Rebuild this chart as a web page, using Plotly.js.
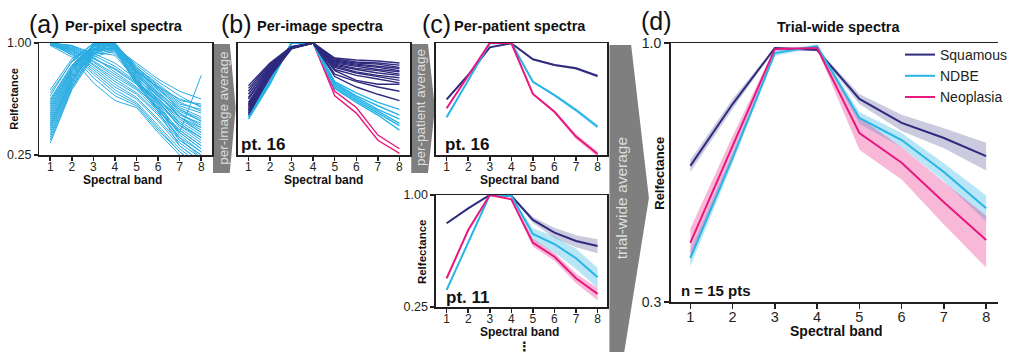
<!DOCTYPE html>
<html><head><meta charset="utf-8">
<script src="https://cdn.plot.ly/plotly-3.0.1.min.js"></script>
<style>html,body{margin:0;padding:0;background:#fff}#chart{width:1012px;height:356px}</style>
</head><body><div id="chart"></div>
<script>
const bands = [1, 2, 3, 4, 5, 6, 7, 8];

// (a) per-pixel spectra (two families)
const pixelRising = [
  [0.54, 0.79, 1.00, 0.98, 0.74, 0.60, 0.49, 0.47],
  [0.50, 0.76, 0.98, 1.00, 0.72, 0.57, 0.46, 0.42],
  [0.46, 0.72, 0.96, 1.00, 0.70, 0.55, 0.43, 0.38],
  [0.43, 0.70, 0.95, 0.99, 0.69, 0.53, 0.40, 0.35],
  [0.40, 0.67, 0.93, 0.97, 0.71, 0.56, 0.45, 0.40],
  [0.37, 0.64, 0.91, 0.98, 0.68, 0.51, 0.37, 0.31],
  [0.35, 0.62, 0.90, 0.96, 0.66, 0.49, 0.35, 0.29],
  [0.33, 0.60, 0.88, 0.95, 0.64, 0.47, 0.33, 0.27],
  [0.31, 0.58, 0.86, 0.93, 0.62, 0.45, 0.30, 0.25],
  [0.29, 0.56, 0.84, 0.91, 0.60, 0.43, 0.28, 0.23],
  [0.52, 0.80, 1.00, 0.97, 0.76, 0.62, 0.52, 0.45],
  [0.48, 0.74, 0.97, 0.99, 0.73, 0.58, 0.47, 0.44],
  [0.44, 0.71, 0.99, 1.00, 0.67, 0.52, 0.41, 0.37],
  [0.39, 0.66, 0.92, 0.94, 0.65, 0.50, 0.39, 0.33],
  [0.36, 0.63, 0.89, 0.86, 0.63, 0.48, 0.36, 0.30],
  [0.42, 0.69, 0.94, 0.88, 0.66, 0.54, 0.44, 0.38],
  [0.56, 0.82, 0.99, 0.95, 0.78, 0.64, 0.55, 0.50],
  [0.47, 0.73, 0.97, 0.92, 0.70, 0.58, 0.50, 0.46],
  [0.41, 0.68, 0.95, 1.00, 0.74, 0.59, 0.48, 0.43],
  [0.34, 0.61, 0.92, 1.00, 0.69, 0.54, 0.42, 0.36],
  [0.30, 0.57, 0.87, 0.97, 0.63, 0.46, 0.32, 0.26],
  [0.45, 0.71, 0.96, 0.90, 0.62, 0.47, 0.36, 0.31],
  [0.38, 0.65, 0.93, 0.99, 0.72, 0.57, 0.44, 0.39],
  [0.32, 0.59, 0.89, 0.94, 0.61, 0.44, 0.31, 0.24],
  [0.49, 0.75, 0.98, 0.96, 0.68, 0.52, 0.40, 0.34],
  [0.36, 0.63, 0.91, 0.93, 0.60, 0.45, 0.34, 0.28]
];
const pixelFalling = [
  [1.00, 0.97, 0.86, 0.75, 0.62, 0.50, 0.40, 0.33],
  [0.99, 0.95, 0.83, 0.72, 0.60, 0.48, 0.37, 0.31],
  [1.00, 0.93, 0.80, 0.68, 0.57, 0.45, 0.34, 0.28],
  [0.98, 0.91, 0.77, 0.64, 0.54, 0.42, 0.31, 0.26],
  [1.00, 0.90, 0.74, 0.60, 0.51, 0.39, 0.29, 0.24],
  [0.99, 0.88, 0.70, 0.56, 0.48, 0.36, 0.27, 0.22],
  [1.00, 0.86, 0.65, 0.52, 0.46, 0.34, 0.26, 0.21],
  [0.97, 0.84, 0.61, 0.49, 0.45, 0.33, 0.25, 0.20],
  [1.00, 0.96, 0.84, 0.70, 0.58, 0.44, 0.33, 0.67],
  [0.98, 0.92, 0.79, 0.66, 0.56, 0.43, 0.33, 0.27],
  [1.00, 0.94, 0.82, 0.73, 0.61, 0.49, 0.38, 0.32],
  [0.99, 0.89, 0.72, 0.58, 0.50, 0.38, 0.28, 0.23],
  [1.00, 0.97, 0.88, 0.78, 0.64, 0.52, 0.42, 0.35],
  [0.98, 0.87, 0.68, 0.54, 0.47, 0.35, 0.26, 0.21],
  [1.00, 0.92, 0.76, 0.62, 0.53, 0.41, 0.30, 0.25]
];

// (b) per-image spectra, patient 16
const imageSquamous = [
  [0.59, 0.78, 0.96, 1.00, 0.83, 0.81, 0.80, 0.78],
  [0.57, 0.77, 0.95, 1.00, 0.82, 0.79, 0.78, 0.76],
  [0.55, 0.76, 0.95, 1.00, 0.81, 0.78, 0.77, 0.74],
  [0.53, 0.75, 0.95, 1.00, 0.80, 0.77, 0.75, 0.73],
  [0.51, 0.74, 0.94, 1.00, 0.79, 0.76, 0.74, 0.71],
  [0.50, 0.73, 0.94, 1.00, 0.78, 0.75, 0.72, 0.70],
  [0.48, 0.72, 0.94, 1.00, 0.77, 0.73, 0.71, 0.68],
  [0.47, 0.71, 0.95, 1.00, 0.76, 0.72, 0.69, 0.67],
  [0.45, 0.70, 0.95, 1.00, 0.75, 0.70, 0.67, 0.65],
  [0.44, 0.69, 0.94, 1.00, 0.74, 0.69, 0.66, 0.63],
  [0.42, 0.68, 0.94, 1.00, 0.72, 0.67, 0.64, 0.61],
  [0.46, 0.70, 0.95, 1.00, 0.71, 0.63, 0.60, 0.60],
  [0.43, 0.67, 0.94, 1.00, 0.66, 0.58, 0.53, 0.49],
  [0.41, 0.66, 0.93, 1.00, 0.68, 0.62, 0.58, 0.55]
];
const imageNdbe = [
  [0.43, 0.63, 1.00, 1.00, 0.62, 0.54, 0.48, 0.44],
  [0.42, 0.62, 1.00, 1.00, 0.61, 0.52, 0.46, 0.41],
  [0.41, 0.62, 1.00, 1.00, 0.60, 0.51, 0.44, 0.39],
  [0.40, 0.61, 1.00, 1.00, 0.59, 0.50, 0.43, 0.37],
  [0.40, 0.61, 1.00, 1.00, 0.58, 0.49, 0.42, 0.36],
  [0.39, 0.60, 1.00, 1.00, 0.57, 0.48, 0.41, 0.34]
];
const imageNeoplasia = [
  [0.46, 0.65, 1.00, 1.00, 0.55, 0.45, 0.32, 0.27],
  [0.44, 0.64, 1.00, 1.00, 0.52, 0.42, 0.30, 0.255]
];

// (c) per-patient spectra: mean and spread
const pt16Squamous = [0.498, 0.673, 0.948, 0.996, 0.817, 0.762, 0.731, 0.665];
const pt16SquamousSem = [0.004, 0.004, 0.003, 0.003, 0.010, 0.010, 0.012, 0.012];
const pt16Ndbe = [0.399, 0.633, 0.998, 1.000, 0.619, 0.525, 0.436, 0.355];
const pt16NdbeSem = [0.004, 0.004, 0.003, 0.003, 0.008, 0.008, 0.010, 0.010];
const pt16Neoplasia = [0.446, 0.673, 1.000, 1.000, 0.532, 0.427, 0.314, 0.253];
const pt16NeoplasiaSem = [0.004, 0.004, 0.003, 0.003, 0.006, 0.008, 0.010, 0.008];

const pt11Squamous = [0.705, 0.848, 1.000, 0.991, 0.734, 0.627, 0.566, 0.532];
const pt11SquamousSem = [0.006, 0.006, 0.003, 0.003, 0.027, 0.039, 0.042, 0.046];
const pt11Ndbe = [0.309, 0.556, 1.000, 0.988, 0.617, 0.545, 0.457, 0.361];
const pt11NdbeSem = [0.004, 0.006, 0.003, 0.004, 0.046, 0.054, 0.057, 0.045];
const pt11Neoplasia = [0.357, 0.648, 1.000, 0.948, 0.554, 0.466, 0.357, 0.294];
const pt11NeoplasiaSem = [0.004, 0.006, 0.003, 0.006, 0.027, 0.023, 0.022, 0.022];

// (d) trial-wide spectra (n = 15 patients)
const trialSquamous = [0.565, 0.753, 0.977, 0.968, 0.771, 0.690, 0.643, 0.591];
const trialSquamousSem = [0.016, 0.0175, 0.005, 0.005, 0.018, 0.026, 0.030, 0.038];
const trialNdbe = [0.368, 0.586, 0.954, 0.986, 0.706, 0.637, 0.549, 0.464];
const trialNdbeSem = [0.014, 0.014, 0.013, 0.007, 0.020, 0.021, 0.023, 0.028];
const trialNeoplasia = [0.395, 0.620, 0.972, 0.977, 0.658, 0.573, 0.477, 0.400];
const trialNeoplasiaSem = [0.027, 0.029, 0.007, 0.006, 0.049, 0.043, 0.047, 0.048];

const classNames = ['Squamous', 'NDBE', 'Neoplasia'];
const xTickText = ['1', '2', '3', '4', '5', '6', '7', '8'];

// ---------- styling ----------
const W = 1012, H = 356;
const px = x => x / W;
const py = y => 1 - y / H;
const FONT = 'Liberation Sans, Arial, sans-serif';
const C_SQ = '#2e2a7e', C_ND = '#27b4e6', C_NE = '#e8187f', C_PIX = '#2aace2';
const F_SQ = 'rgba(46,42,126,0.25)', F_ND = 'rgba(39,180,230,0.33)', F_NE = 'rgba(232,24,127,0.3)';
const AX = '#231f20';

const traces = [];
function line(y, color, width, xa, ya, extra) {
  traces.push(Object.assign({
    x: bands, y: y, type: 'scatter', mode: 'lines',
    line: {color: color, width: width}, xaxis: xa, yaxis: ya,
    showlegend: false, hoverinfo: 'skip'
  }, extra || {}));
}
function band(mean, sem, fill, xa, ya) {
  const up = mean.map((v, i) => v + sem[i]);
  const lo = mean.map((v, i) => v - sem[i]);
  traces.push({
    x: bands.concat(bands.slice().reverse()),
    y: up.concat(lo.slice().reverse()),
    type: 'scatter', mode: 'lines', fill: 'toself', fillcolor: fill,
    line: {width: 0, color: fill}, xaxis: xa, yaxis: ya,
    showlegend: false, hoverinfo: 'skip'
  });
}

// (a)
pixelRising.forEach(s => line(s, C_PIX, 1, 'x', 'y'));
pixelFalling.forEach(s => line(s, C_PIX, 1, 'x', 'y'));
// (b)
imageNeoplasia.forEach(s => line(s, C_NE, 1.4, 'x2', 'y2'));
imageNdbe.forEach(s => line(s, C_ND, 1.4, 'x2', 'y2'));
imageSquamous.forEach(s => line(s, C_SQ, 1.4, 'x2', 'y2'));
// (c) top
band(pt16Squamous, pt16SquamousSem, F_SQ, 'x3', 'y3');
band(pt16Ndbe, pt16NdbeSem, F_ND, 'x3', 'y3');
band(pt16Neoplasia, pt16NeoplasiaSem, F_NE, 'x3', 'y3');
line(pt16Squamous, C_SQ, 2, 'x3', 'y3');
line(pt16Ndbe, C_ND, 2, 'x3', 'y3');
line(pt16Neoplasia, C_NE, 2, 'x3', 'y3');
// (c) bottom
band(pt11Squamous, pt11SquamousSem, F_SQ, 'x4', 'y4');
band(pt11Ndbe, pt11NdbeSem, F_ND, 'x4', 'y4');
band(pt11Neoplasia, pt11NeoplasiaSem, F_NE, 'x4', 'y4');
line(pt11Squamous, C_SQ, 2, 'x4', 'y4');
line(pt11Ndbe, C_ND, 2, 'x4', 'y4');
line(pt11Neoplasia, C_NE, 2, 'x4', 'y4');
// (d)
band(trialSquamous, trialSquamousSem, F_SQ, 'x5', 'y5');
band(trialNdbe, trialNdbeSem, F_ND, 'x5', 'y5');
band(trialNeoplasia, trialNeoplasiaSem, F_NE, 'x5', 'y5');
line(trialSquamous, C_SQ, 2, 'x5', 'y5', {name: classNames[0], showlegend: true});
line(trialNdbe, C_ND, 2, 'x5', 'y5', {name: classNames[1], showlegend: true});
line(trialNeoplasia, C_NE, 2, 'x5', 'y5', {name: classNames[2], showlegend: true});

function xax(l, r, range, opts) {
  return Object.assign({
    domain: [px(l), px(r)], range: range, tickvals: bands, ticktext: xTickText,
    ticks: 'outside', ticklen: 4, tickwidth: 1.5, tickcolor: AX, ticklabelstandoff: -4,
    showline: true, linewidth: 1.5, linecolor: AX, mirror: true,
    showgrid: false, zeroline: false, tickfont: {size: 12, color: '#231f20'},
    fixedrange: true
  }, opts || {});
}
function yax(t, b, lo, opts) {
  return Object.assign({
    domain: [py(b), py(t)], type: 'log', range: [Math.log10(lo), 0],
    ticks: 'outside', ticklen: 4, tickwidth: 1.5, tickcolor: AX,
    showline: true, linewidth: 1.5, linecolor: AX, mirror: true,
    showgrid: false, zeroline: false, tickfont: {size: 12.5, color: '#231f20'},
    tickvals: [0.25, 1], ticktext: ['0.25', '1.00'], fixedrange: true
  }, opts || {});
}
const noTicks = {ticks: '', showticklabels: false};

const ann = [];
function txt(text, x, y, size, opts) {
  ann.push(Object.assign({
    text: text, x: px(x), y: py(y), xref: 'paper', yref: 'paper',
    showarrow: false, xanchor: 'left', yanchor: 'middle',
    font: {family: FONT, size: size, color: '#111'}
  }, opts || {}));
}
// panel titles
txt('(a)', 27, 24, 25); txt('<b>Per-pixel spectra</b>', 64, 26, 14.5);
txt('(b)', 222, 24, 25); txt('<b>Per-image spectra</b>', 259, 26, 14.5);
txt('(c)', 426, 24, 25); txt('<b>Per-patient spectra</b>', 458, 26, 14.5);
txt('(d)', 648, 21, 25); txt('<b>Trial-wide spectra</b>', 850, 27, 14.5, {xanchor: 'center'});
// inner labels
txt('<b>pt. 16</b>', 242, 145, 17);
txt('<b>pt. 16</b>', 449, 145, 17);
txt('<b>pt. 11</b>', 450, 297, 17);
txt('<b>n = 15 pts</b>', 689, 290, 15);
// axis titles
const SB = '<b>Spectral band</b>';
txt(SB, 124, 180, 12, {xanchor: 'center'});
txt(SB, 328, 180, 12, {xanchor: 'center'});
txt(SB, 527, 180, 12, {xanchor: 'center'});
txt(SB, 527, 332, 12, {xanchor: 'center'});
txt(SB, 848, 331, 14, {xanchor: 'center'});
txt('<b>Relfectance</b>', 14, 99, 11, {xanchor: 'center', textangle: -90});
txt('<b>Relfectance</b>', 428, 252, 11.5, {xanchor: 'center', textangle: -90});
txt('<b>Relfectance</b>', 668, 173, 13, {xanchor: 'center', textangle: -90});
// arrow labels
const AT = '#dedede';
txt('per-image average', 226, 108, 13.5, {xanchor: 'center', textangle: -90, font: {family: FONT, size: 13.5, color: AT}});
txt('per-patient average', 426, 108, 13.5, {xanchor: 'center', textangle: -90, font: {family: FONT, size: 13.5, color: AT}});
txt('trial-wide average', 630, 198, 15.5, {xanchor: 'center', textangle: -90, font: {family: FONT, size: 15.5, color: AT}});
txt('<b>⋮</b>', 532, 346, 13, {xanchor: 'center', font: {family: 'DejaVu Sans', size: 13, color: '#111'}});

function poly(pts) {
  return 'M ' + pts.map(p => px(p[0]) + ',' + py(p[1])).join(' L ') + ' Z';
}
const GRAY = '#7f7f7f';
const shapes = [
  {type: 'path', xref: 'paper', yref: 'paper', fillcolor: GRAY, line: {width: 0}, layer: 'below',
   path: poly([[216, 44], [233, 44], [239, 108], [233, 173], [216, 173]])},
  {type: 'path', xref: 'paper', yref: 'paper', fillcolor: GRAY, line: {width: 0}, layer: 'below',
   path: poly([[417, 44], [434, 44], [441, 108], [434, 173], [417, 173]])},
  {type: 'path', xref: 'paper', yref: 'paper', fillcolor: GRAY, line: {width: 0}, layer: 'below',
   path: poly([[618, 45], [640, 45], [658, 198], [633, 352], [618, 352]])}
];

const layout = {
  width: W, height: H, margin: {l: 0, r: 0, t: 0, b: 0},
  paper_bgcolor: '#fff', plot_bgcolor: 'rgba(0,0,0,0)',
  font: {family: FONT, color: '#231f20'},
  showlegend: true,
  legend: {x: px(913), y: py(39), xanchor: 'left', yanchor: 'top',
           bgcolor: 'rgba(0,0,0,0)', font: {size: 14, color: '#231f20'}, tracegroupgap: 0},
  xaxis: xax(40, 215, [0.5, 8.5]),
  yaxis: yax(43, 155, 0.25),
  xaxis2: xax(241, 416, [0.5, 8.5], {anchor: 'y2'}),
  yaxis2: yax(43, 155, 0.25, Object.assign({anchor: 'x2'}, noTicks)),
  xaxis3: xax(442, 616, [0.5, 8.46], {anchor: 'y3'}),
  yaxis3: yax(43, 155, 0.25, Object.assign({anchor: 'x3'}, noTicks)),
  xaxis4: xax(442, 616, [0.5, 8.46], {anchor: 'y4'}),
  yaxis4: yax(195, 307, 0.25, {anchor: 'x4'}),
  xaxis5: xax(680, 1012, [0.533, 8.28], {anchor: 'y5', ticklen: 5, ticklabelstandoff: -4,
           tickfont: {size: 14.5, color: '#231f20'}}),
  yaxis5: yax(43, 302, 0.3, {anchor: 'x5', mirror: false, ticklen: 5, tickvals: [0.3, 1], ticktext: ['0.3', '1.0'],
           tickfont: {size: 14, color: '#231f20'}}),
  annotations: ann,
  shapes: shapes
};
Plotly.newPlot('chart', traces, layout, {displayModeBar: false, staticPlot: true});
</script></body></html>
